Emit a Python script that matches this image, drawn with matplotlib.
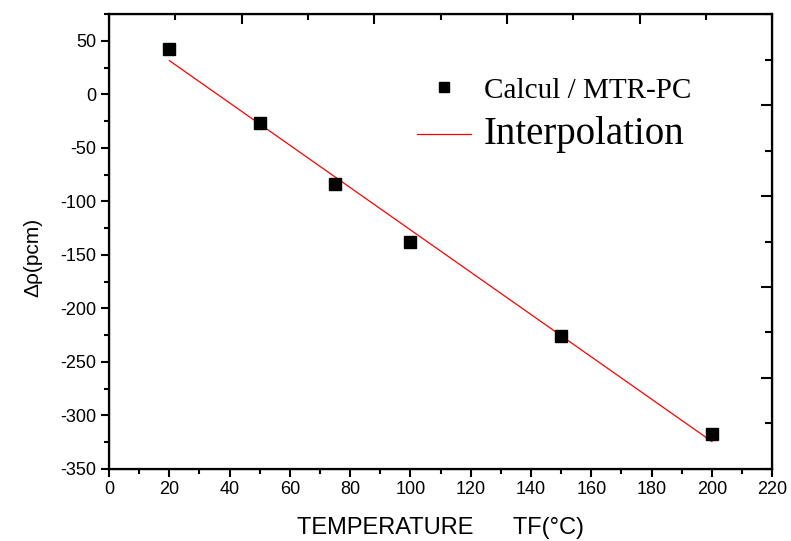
import numpy as np
import matplotlib
matplotlib.use("Agg")
from matplotlib import pyplot as plt
from matplotlib.ticker import MultipleLocator, NullFormatter

plt.rcParams["axes.unicode_minus"] = False

# Calcul MTR-PC : variation de réactivité en fonction de la température combustible
temperature = [20, 50, 75, 100, 150, 200]
delta_rho = [42, -27, -84, -138, -226, -317]

x_ticks = list(range(0, 221, 20))
y_ticks = list(range(-350, 51, 50))

# droite d'interpolation (moindres carrés)
pente, origine = np.polyfit(temperature, delta_rho, 1)
x_fit = np.array([min(temperature), max(temperature)])
y_fit = pente * x_fit + origine

fig = plt.figure(figsize=(7.91, 5.41), dpi=100)
ax = fig.add_axes([0.1378, 0.1331, 0.8384, 0.8410])

ax.plot(temperature, delta_rho, "s", color="black", markersize=8.5,
        label="Calcul / MTR-PC", zorder=3)
ax.plot(x_fit, y_fit, "-", color="red", linewidth=0.9, label="Interpolation")

ax.set_xlim(0, 220)
ax.set_ylim(-350, 75)
ax.set_xticks(x_ticks)
ax.set_yticks(y_ticks)
ax.xaxis.set_minor_locator(MultipleLocator(10))
ax.yaxis.set_minor_locator(MultipleLocator(25))

for sp in ax.spines.values():
    sp.set_linewidth(1.6)

ax.tick_params(which="major", direction="out", length=6, width=1.5,
               top=False, right=False)
ax.tick_params(which="minor", direction="out", length=3.5, width=1.5,
               top=False, right=False)
ax.tick_params(axis="both", labelsize=13, pad=3)

for lab in ax.get_xticklabels() + ax.get_yticklabels():
    lab.set_family("Liberation Sans")

ax.set_xlabel("TEMPERATURE      TF(°C)", fontsize=17, labelpad=13.6,
              family="Liberation Sans")
ax.set_ylabel("Δρ(pcm)", fontsize=15, family="Liberation Sans")
ax.yaxis.set_label_coords(-0.101, 0.465)

# graduations intérieures en haut et à droite (échelle indépendante)
top = ax.twiny()
top.set_xlim(0, 1)
top.set_xticks([0.2, 0.4, 0.6, 0.8])
top.xaxis.set_minor_locator(MultipleLocator(0.1))
top.xaxis.set_major_formatter(NullFormatter())
top.tick_params(which="major", direction="in", length=7, width=1.5)
top.tick_params(which="minor", direction="in", length=4.5, width=1.5)

right = ax.twinx()
right.set_ylim(0, 1)
right.set_yticks([0.2, 0.4, 0.6, 0.8])
right.yaxis.set_minor_locator(MultipleLocator(0.1))
right.yaxis.set_major_formatter(NullFormatter())
right.tick_params(which="major", direction="in", length=8, width=1.5)
right.tick_params(which="minor", direction="in", length=5, width=1.5)

leg = ax.legend(loc="upper left", bbox_to_anchor=(0.443, 0.893),
                frameon=False, handlelength=1.85, handletextpad=0.42,
                labelspacing=0.42, borderpad=0, markerscale=0.85,
                prop={"family": "Liberation Serif", "size": 21})
leg.get_texts()[1].set_fontsize(28)

fig.savefig("out.png", dpi=100)
